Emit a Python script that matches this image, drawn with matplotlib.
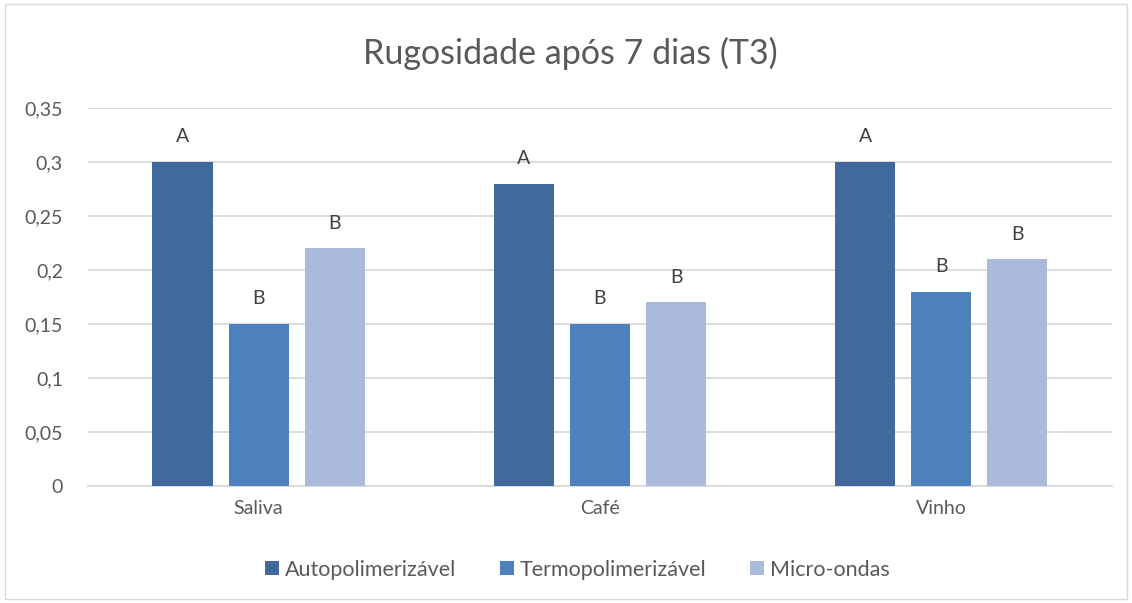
import matplotlib
matplotlib.use("Agg")
import matplotlib.pyplot as plt
from matplotlib.patches import Rectangle
import numpy as np

categories = ["Saliva", "Café", "Vinho"]
series_names = ["Autopolimerizável", "Termopolimerizável", "Micro-ondas"]
auto_vals = [0.30, 0.28, 0.30]
termo_vals = [0.15, 0.15, 0.18]
micro_vals = [0.22, 0.17, 0.21]
auto_letters = ["A", "A", "A"]
termo_letters = ["B", "B", "B"]
micro_letters = ["B", "B", "B"]
yticks = [0, 0.05, 0.1, 0.15, 0.2, 0.25, 0.3, 0.35]
ytick_labels = ["0", "0,05", "0,1", "0,15", "0,2", "0,25", "0,3", "0,35"]
title = "Rugosidade após 7 dias (T3)"

colors = ["#41699B", "#4F81BD", "#AABADA"]
text_color = "#595959"

plt.rcParams['font.family'] = ['Lato', 'DejaVu Sans']

fig = plt.figure(figsize=(11.32, 6.03), dpi=100)
ax = fig.add_axes([0.0777, 0.194, 0.9046, 0.627])

x = np.arange(len(categories))
bw = 0.176
offs = [-0.223, 0.0, 0.223]
for vals, letters, off, col, name in zip([auto_vals, termo_vals, micro_vals],
                                         [auto_letters, termo_letters, micro_letters],
                                         offs, colors, series_names):
    ax.bar(x + off, vals, width=bw, color=col, label=name, zorder=3)
    for xi, v, lab in zip(x + off, vals, letters):
        ax.annotate(lab, (xi, v), xytext=(0, 18), textcoords="offset points",
                    ha="center", va="center", fontsize=14, color="#404040")

ax.set_xlim(-0.5, 2.5)
ax.set_ylim(0, 0.35)
ax.set_yticks(yticks)
ax.set_yticklabels(ytick_labels)
ax.set_xticks(x)
ax.set_xticklabels(categories)
ax.tick_params(axis='both', length=0, labelsize=14, colors=text_color)
ax.tick_params(axis='y', pad=18)
ax.tick_params(axis='x', pad=10)
ax.grid(axis='y', color="#D9D9D9", linewidth=1.3, zorder=0)
for s in ["left", "right", "top"]:
    ax.spines[s].set_visible(False)
ax.spines["bottom"].set_color("#D9D9D9")
ax.spines["bottom"].set_linewidth(1.3)

fig.text(0.5035, 0.912, title, ha="center", va="center", fontsize=24.5, color=text_color)

leg = fig.legend(loc="center", bbox_to_anchor=(0.51, 0.055), ncol=3, frameon=False,
                 fontsize=15.5, handlelength=0.65, handleheight=0.65, handletextpad=0.3,
                 columnspacing=2.0)
for t in leg.get_texts():
    t.set_color(text_color)

fig.patches.append(Rectangle((0.004, 0.006), 0.992, 0.988, transform=fig.transFigure,
                             fill=False, edgecolor="#D9D9D9", linewidth=1.0))

fig.savefig("out.png", dpi=100)
